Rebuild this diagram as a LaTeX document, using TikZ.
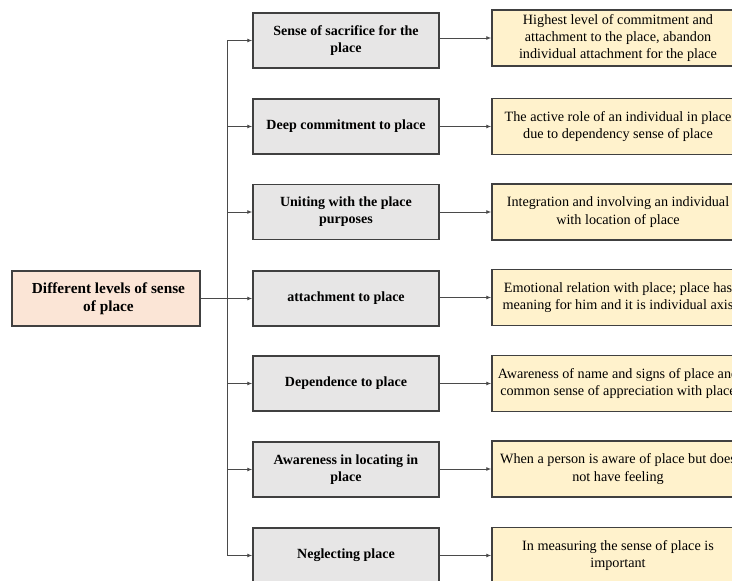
\documentclass[tikz,border=0pt]{standalone}
\usepackage{fontspec}
\setmainfont{Liberation Serif}
\usetikzlibrary{arrows.meta}
\definecolor{midfill}{HTML}{E7E6E6}
\definecolor{leftfill}{HTML}{FBE5D6}
\definecolor{rightfill}{HTML}{FFF2CC}
\definecolor{edgecol}{HTML}{404040}
\definecolor{linecol}{HTML}{4A4A4A}
\tikzset{
  box/.style={draw=edgecol, line width=1.5pt, align=center, inner sep=0pt},
  midbox/.style={box, fill=midfill, minimum width=186pt, minimum height=55pt, font=\fontsize{14}{17}\selectfont\bfseries},
  leftbox/.style={box, fill=leftfill, minimum width=188pt, minimum height=55pt, font=\fontsize{15.3}{18}\selectfont\bfseries},
  rightbox/.style={box, fill=rightfill, minimum width=252pt, minimum height=56pt, font=\fontsize{14.2}{17.3}\selectfont},
  conn/.style={draw=linecol, line width=0.9pt},
  arr/.style={conn, -{Latex[length=5pt,width=4pt]}}
}
\begin{document}
\begin{tikzpicture}[x=1pt,y=-1pt]
\useasboundingbox (0,0) rectangle (732,581);
\node[leftbox] (L) at (106,298.5) {\hspace*{5pt}Different levels of sense\\\hspace*{5pt}of place};
\node[midbox] (m1) at (346,40.5) {Sense of sacrifice for the\\place};
\node[midbox] (m2) at (346,126.5) {Deep commitment to place};
\node[midbox] (m3) at (346,212) {Uniting with the place\\purposes};
\node[midbox] (m4) at (346,298.5) {attachment to place};
\node[midbox] (m5) at (346,383.5) {Dependence to place};
\node[midbox] (m6) at (346,469.5) {Awareness in locating in\\place};
\node[midbox] (m7) at (346,555.5) {Neglecting place};
\node[rightbox] (r1) at (618,38) {Highest level of commitment and\\attachment to the place, abandon\\individual attachment for the place};
\node[rightbox] (r2) at (618,126.5) {The active role of an individual in place\\due to dependency sense of place};
\node[rightbox] (r3) at (618,212) {Integration and involving an individual\\with location of place};
\node[rightbox] (r4) at (618,297.5) {Emotional relation with place; place has\\meaning for him and it is individual axis};
\node[rightbox] (r5) at (618,383.5) {Awareness of name and signs of place and\\common sense of appreciation with place};
\node[rightbox] (r6) at (618,469) {When a person is aware of place but does\\not have feeling};
\node[rightbox] (r7) at (618,555.5) {In measuring the sense of place is\\important};
\coordinate (t) at (227,0);
\draw[conn] (m1.west -| t) -- (m7.west -| t);
\draw[conn] (L.east) -- (m4.west -| t);
\foreach \i in {1,...,7}{
  \draw[arr] (m\i.west -| t) -- (m\i.west);
  \draw[arr] (r\i.west -| m\i.east) -- (r\i.west);
}
\end{tikzpicture}
\end{document}
